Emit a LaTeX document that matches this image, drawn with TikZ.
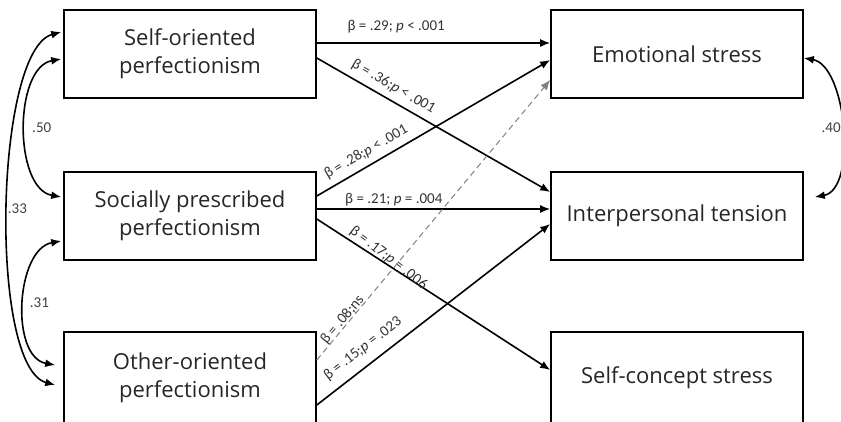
\documentclass[tikz,border=0pt]{standalone}
\usepackage{fontspec}
\setmainfont{Open Sans}
\newfontfamily\coeffont{Carlito}
\usetikzlibrary{arrows.meta}

\begin{document}
\begin{tikzpicture}[x=1pt,y=1pt,
    var/.style={draw,line width=1.6pt,minimum width=252pt,minimum height=88pt,
      align=center,text=black!85,font=\fontsize{22}{28}\selectfont},
    eff/.style={line width=1.6pt,-{Latex[length=10pt,width=8pt]}},
    nseff/.style={line width=1pt,gray,dash pattern=on 6pt off 4pt,-{Latex[length=10pt,width=8pt]}},
    cov/.style={line width=1.6pt,{Latex[length=10pt,width=8pt]}-{Latex[length=10pt,width=8pt]}},
    coef/.style={font=\coeffont\fontsize{15}{17}\selectfont,text=black!80,sloped,inner sep=1pt},
    corr/.style={font=\coeffont\fontsize{15}{17}\selectfont,text=black!75,inner sep=1pt}]
  \useasboundingbox (0,0) rectangle (841,-421);

  % predictors
  \node [var] (sop) at (190,-54) {Self-oriented\\perfectionism};
  \node [var] (spp) at (190,-216) {Socially prescribed\\perfectionism};
  \node [var,minimum height=92pt] (oop) at (190,-378) {Other-oriented\\perfectionism};

  % outcomes
  \node [var] (emo) at (677,-54) {Emotional stress};
  \node [var] (int) at (677,-216) {Interpersonal tension};
  \node [var,minimum height=92pt] (scs) at (677,-378) {Self-concept stress};

  % paths
  \draw [eff] ([yshift=11pt]sop.east) -- node[coef,above=8pt,pos=.34] {β = .29; \textit{p} < .001} ([yshift=11pt]emo.west);
  \draw [eff] ([yshift=-4pt]sop.east) -- node[coef,above=5pt,pos=.30] {β = .36;\textit{p} < .001} ([yshift=24pt]int.west);
  \draw [eff] ([yshift=20pt]spp.east) -- node[coef,above=5pt,pos=.24] {β = .28;\textit{p} < .001} ([yshift=-6pt]emo.west);
  \draw [eff] ([yshift=7pt]spp.east) -- node[coef,above=1pt,pos=.33] {β = .21; \textit{p} = .004} ([yshift=7pt]int.west);
  \draw [eff] ([yshift=-3pt]spp.east) -- node[coef,above=-2pt,pos=.29,rotate=-5] {β = .17;\textit{p} = .006} ([yshift=8pt]scs.west);
  \draw [nseff] ([yshift=18pt]oop.east) -- node[coef,above=-2pt,pos=.13] {β = .08;ns} ([yshift=-26pt]emo.west);
  \draw [eff] ([yshift=-27pt]oop.east) -- node[coef,above=8pt,pos=.24] {β = .15;\textit{p} = .023} ([yshift=-8pt]int.west);

  % correlations
  \draw [cov] ([xshift=-2pt,yshift=-5pt]sop.west) to[out=190,in=170,looseness=.9] node[corr,right=5pt] {.50} ([xshift=-2pt,yshift=19pt]spp.west);
  \draw [cov] ([xshift=-2pt,yshift=22pt]sop.west) to[out=195,in=165,looseness=.5] node[corr,right=-2pt] {.33} ([xshift=-8pt,yshift=-7pt]oop.west);
  \draw [cov] ([xshift=-2pt,yshift=-25pt]spp.west) to[out=190,in=170,looseness=.95] node[corr,right=4pt] {.31} ([xshift=-8pt,yshift=13pt]oop.west);
  \draw [cov] ([yshift=-4pt]emo.east) to[out=-10,in=10,looseness=.8] node[corr,left=-1pt] {.40} ([xshift=11pt,yshift=19pt]int.east);
\end{tikzpicture}
\end{document}
